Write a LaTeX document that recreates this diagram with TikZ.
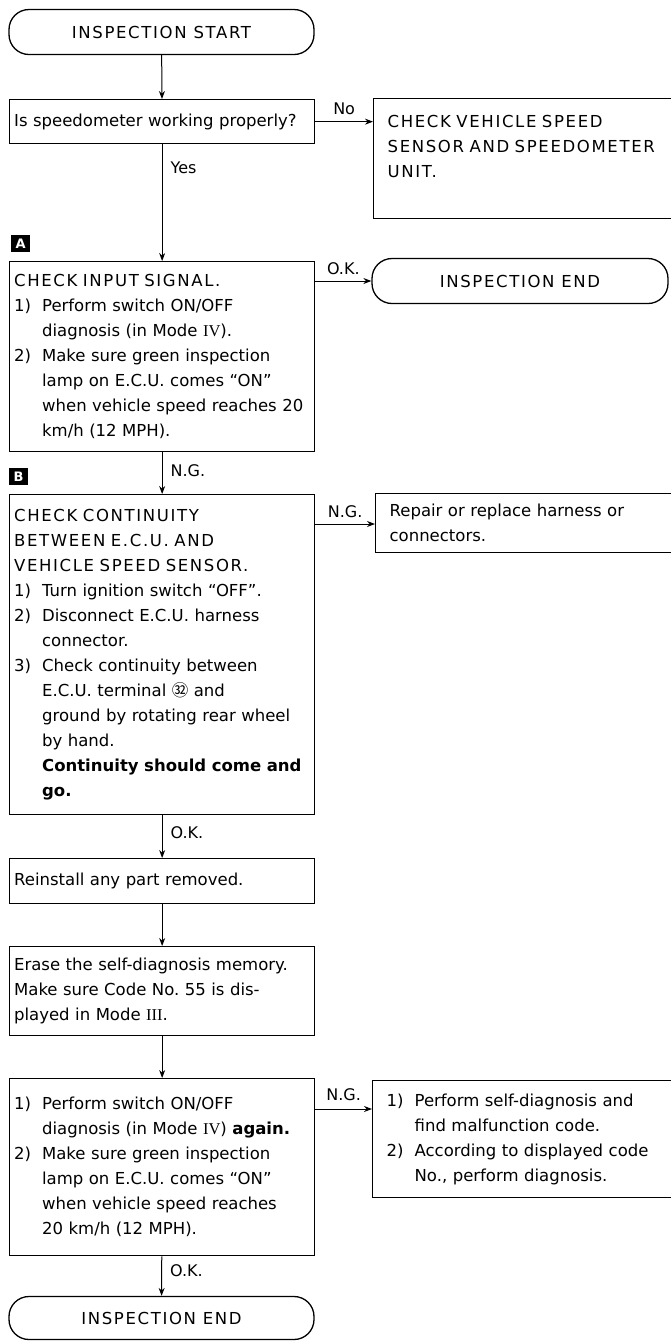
\documentclass[tikz,border=0pt]{standalone}
\usepackage{fontspec}
\setmainfont{DejaVu Sans}
\newfontfamily\capsfont[LetterSpace=10]{DejaVu Sans}
\newfontfamily\romfont{Liberation Serif}
\newfontfamily\cjkfont{Noto Sans CJK JP}
\usepackage{tikz}
\usetikzlibrary{shapes,arrows,arrows.meta,positioning,calc}
\frenchspacing

\newcommand{\stepnum}[1]{\makebox[28pt][l]{#1}}
\newcommand{\stepind}{\hspace*{28pt}}

\begin{document}
\begin{tikzpicture}[x=1pt,y=-1pt,
    box/.style={draw,line width=1.3pt,anchor=north west,align=left,text width=296pt,
        inner xsep=4.5pt,inner ysep=0pt,font=\fontsize{16.5}{25}\selectfont},
    rbox/.style={box,text width=282pt,inner xsep=14pt},
    term/.style={draw,line width=1.3pt,rounded corners=20pt,minimum width=305pt,
        minimum height=45pt,font=\capsfont\fontsize{16.5}{20}\selectfont},
    tagbox/.style={fill=black,text=white,anchor=north west,inner sep=0pt,
        minimum width=19pt,minimum height=17pt,font=\bfseries\fontsize{13}{13}\selectfont},
    arr/.style={-{Stealth[length=8pt,width=6pt]},line width=1pt},
    lbl/.style={inner sep=2pt,font=\fontsize{16}{18}\selectfont}]
    \useasboundingbox (0,0) rectangle (670,1342);

    % Start and first question
    \node[term] (start) at (161.5,32) {INSPECTION START};
    \node[box,minimum height=44pt] (quest) at (9,99) {Is speedometer working properly?};
    \node[rbox,inner ysep=17pt] (chkvss) at (373,98)
        {\parbox[c][86pt][t]{282pt}{\capsfont CHECK VEHICLE SPEED\\SENSOR AND SPEEDOMETER\\UNIT.}};

    % Step A
    \node[tagbox] (tagA) at (11,235) {A};
    \node[box,minimum height=190pt] (chkin) at (9,261)
        {{\capsfont CHECK INPUT SIGNAL.}\\
         \stepnum{1)}Perform switch ON/OFF\\
         \stepind diagnosis (in Mode {\romfont IV}).\\
         \stepnum{2)}Make sure green inspection\\
         \stepind lamp on E.C.U. comes “ON”\\
         \stepind when vehicle speed reaches 20\\
         \stepind km/h (12 MPH).};
    \node[term,minimum width=296pt] (endA) at (520,281) {INSPECTION END};

    % Step B
    \node[tagbox] (tagB) at (9,468) {B};
    \node[box,minimum height=320pt] (chkcont) at (9,494)
        {{\capsfont CHECK CONTINUITY}\\
         {\capsfont BETWEEN E.C.U. AND}\\
         {\capsfont VEHICLE SPEED SENSOR.}\\
         \stepnum{1)}Turn ignition switch “OFF”.\\
         \stepnum{2)}Disconnect E.C.U. harness\\
         \stepind connector.\\
         \stepnum{3)}Check continuity between\\
         \stepind E.C.U. terminal {\cjkfont ㉜} and\\
         \stepind ground by rotating rear wheel\\
         \stepind by hand.\\
         \stepind\textbf{Continuity should come and}\\
         \stepind\textbf{go.}};
    \node[rbox,minimum height=59pt,inner ysep=0pt] (repair) at (375,493)
        {Repair or replace harness or\\connectors.};

    % Closing steps
    \node[box,minimum height=45pt] (reinst) at (9,858) {Reinstall any part removed.};
    \node[box,minimum height=89pt] (erase) at (9,946)
        {Erase the self-diagnosis memory.\\
         Make sure Code No. 55 is dis-\\
         played in Mode {\romfont III}.};
    \node[box,minimum height=177pt] (recheck) at (9,1078)
        {\stepnum{1)}Perform switch ON/OFF\\
         \stepind diagnosis (in Mode {\romfont IV}) \textbf{again.}\\
         \stepnum{2)}Make sure green inspection\\
         \stepind lamp on E.C.U. comes “ON”\\
         \stepind when vehicle speed reaches\\
         \stepind 20 km/h (12 MPH).};
    \node[rbox,minimum height=117pt,inner ysep=0pt] (selfdiag) at (372,1080)
        {\stepnum{1)}Perform self-diagnosis and\\
         \stepind find malfunction code.\\
         \stepnum{2)}According to displayed code\\
         \stepind No., perform diagnosis.};
    \node[term,minimum height=43pt] (endB) at (161.5,1318) {INSPECTION END};

    % Connectors
    \coordinate (ngB) at ([yshift=-30pt]chkcont.north east);
    \coordinate (ngC) at ([yshift=-31pt]recheck.north east);
    \draw[arr] (start) -- (quest);
    \draw[arr] (quest.east) -- node[lbl,above=4pt] {No} (quest.east -| chkvss.west);
    \draw[arr] (quest) -- node[lbl,right=6pt,pos=0.2] {Yes} (chkin);
    \draw[arr] (endA.west -| chkin.east) -- node[lbl,above=4pt] {O.K.} (endA.west);
    \draw[arr] (chkin) -- node[lbl,right=6pt,pos=0.44] {N.G.} (chkcont);
    \draw[arr] (ngB) -- node[lbl,above=4pt] {N.G.} (ngB -| repair.west);
    \draw[arr] (chkcont) -- node[lbl,right=6pt,pos=0.41] {O.K.} (reinst);
    \draw[arr] (reinst) -- (erase);
    \draw[arr] (erase) -- (recheck);
    \draw[arr] (ngC) -- node[lbl,above=6pt] {N.G.} (ngC -| selfdiag.west);
    \draw[arr] (recheck) -- node[lbl,right=6pt,pos=0.36] {O.K.} (endB);
\end{tikzpicture}
\end{document}
